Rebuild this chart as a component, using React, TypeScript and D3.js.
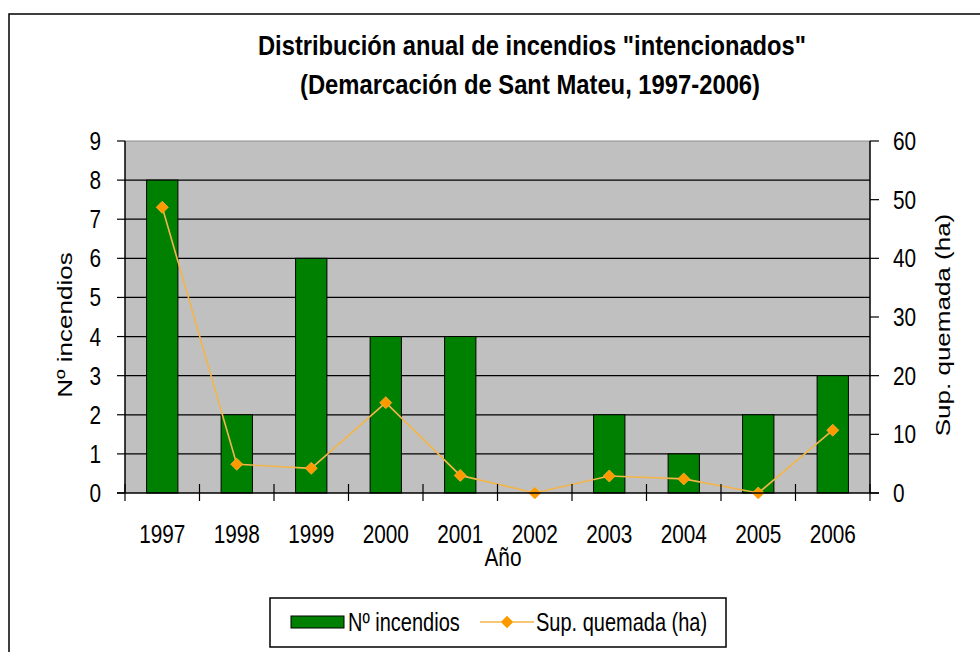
import React from "react";
import * as d3 from "d3";

const years = ["1997", "1998", "1999", "2000", "2001", "2002", "2003", "2004", "2005", "2006"];
const incendios = [8, 2, 6, 4, 4, 0, 2, 1, 2, 3];
const superficie = [48.7, 4.9, 4.2, 15.4, 3, 0, 2.9, 2.4, 0, 10.7];
const leftTicks = [0, 1, 2, 3, 4, 5, 6, 7, 8, 9];
const rightTicks = [0, 10, 20, 30, 40, 50, 60];

const W = 980;
const H = 652;
const plot = { left: 125, right: 870, top: 141, bottom: 493 };
const FONT = "'Liberation Sans', Arial, sans-serif";
const SX = 0.8; // the original is squeezed horizontally

const green = "#008000";
const orange = "#FF9900";
const lineOrange = "#F2B54A";

// text squeezed horizontally like the source picture
const Label = ({ x, y, size = 26, anchor = "start", bold = false, rotate = 0, width, children }: any) => {
  const t = rotate
    ? `translate(${x},${y}) rotate(${rotate}) scale(1,${SX})`
    : `translate(${x},${y}) scale(${SX},1)`;
  return (
    <text
      transform={t}
      fontFamily={FONT}
      fontSize={size}
      fontWeight={bold ? "bold" : "normal"}
      textAnchor={anchor}
      fill="#000"
      textLength={width ? width / SX : undefined}
      lengthAdjust={width ? "spacingAndGlyphs" : undefined}
    >
      {children}
    </text>
  );
};

const diamond = (cx: number, cy: number, r = 6) =>
  `M${cx},${cy - r}L${cx + r},${cy}L${cx},${cy + r}L${cx - r},${cy}Z`;

export default function App() {
  const x = d3.scaleBand().domain(years).range([plot.left, plot.right]).padding(0);
  const yL = d3.scaleLinear().domain([0, 9]).range([plot.bottom, plot.top]);
  const yR = d3.scaleLinear().domain([0, 60]).range([plot.bottom, plot.top]);
  const bw = x.bandwidth() * 0.42;
  const cx = (d: string) => (x(d) as number) + x.bandwidth() / 2;

  const line = d3
    .line<number>()
    .x((_, i) => cx(years[i]))
    .y((d) => yR(d));

  const boundaries = years.map((d) => x(d) as number).concat([plot.right]);

  return (
    <svg width={W} height={H} style={{ position: "absolute", left: 0, top: 0 }}>
      <rect x={0} y={0} width={W} height={H} fill="#fff" />
      <rect x={9} y={14} width={W + 20} height={H + 20} fill="#fff" stroke="#000" strokeWidth={1.5} />

      {/* title */}
      <Label x={532} y={55} size={27} anchor="middle" bold width={548}>
        Distribución anual de incendios "intencionados"
      </Label>
      <Label x={530} y={94} size={27} anchor="middle" bold width={460}>
        (Demarcación de Sant Mateu, 1997-2006)
      </Label>

      {/* plot area */}
      <rect
        x={plot.left}
        y={plot.top}
        width={plot.right - plot.left}
        height={plot.bottom - plot.top}
        fill="#C0C0C0"
      />
      <line x1={plot.left} x2={plot.right} y1={plot.top} y2={plot.top} stroke="#8c8c8c" strokeWidth={1} />
      {leftTicks.slice(1, -1).map((t) => (
        <line key={t} x1={plot.left} x2={plot.right} y1={yL(t)} y2={yL(t)} stroke="#000" strokeWidth={1.2} />
      ))}

      {/* bars */}
      {years.map((d, i) =>
        incendios[i] > 0 ? (
          <rect
            key={d}
            x={cx(d) - bw / 2}
            y={yL(incendios[i])}
            width={bw}
            height={yL(0) - yL(incendios[i])}
            fill={green}
            stroke="#000"
            strokeWidth={1}
          />
        ) : null
      )}

      {/* line series */}
      <path d={line(superficie) || ""} fill="none" stroke={lineOrange} strokeWidth={1.6} />
      {superficie.map((v, i) => (
        <path key={i} d={diamond(cx(years[i]), yR(v))} fill={orange} stroke="#FFB030" strokeWidth={0.8} />
      ))}

      {/* left axis */}
      <line x1={plot.left} x2={plot.left} y1={plot.top} y2={plot.bottom} stroke="#000" strokeWidth={1.5} />
      {leftTicks.map((t) => (
        <g key={t}>
          <line x1={plot.left - 8} x2={plot.left} y1={yL(t)} y2={yL(t)} stroke="#000" strokeWidth={1.2} />
          <Label x={101} y={yL(t) + 9} anchor="end">
            {t}
          </Label>
        </g>
      ))}

      {/* right axis */}
      <line x1={plot.right} x2={plot.right} y1={plot.top} y2={plot.bottom} stroke="#000" strokeWidth={1.5} />
      {rightTicks.map((t) => (
        <g key={t}>
          <line x1={plot.right} x2={plot.right + 9} y1={yR(t)} y2={yR(t)} stroke="#000" strokeWidth={1.2} />
          <Label x={893} y={yR(t) + 9}>
            {t}
          </Label>
        </g>
      ))}

      {/* bottom axis */}
      <line x1={plot.left - 8} x2={plot.right + 9} y1={plot.bottom} y2={plot.bottom} stroke="#000" strokeWidth={1.5} />
      {boundaries.map((b, i) => (
        <line key={i} x1={b} x2={b} y1={plot.bottom - 9} y2={plot.bottom + 8} stroke="#000" strokeWidth={1.2} />
      ))}
      {years.map((d) => (
        <Label key={d} x={cx(d)} y={543} anchor="middle">
          {d}
        </Label>
      ))}

      {/* axis titles */}
      <Label x={503} y={566} anchor="middle">
        Año
      </Label>
      <Label x={72} y={325} anchor="middle" rotate={-90}>
        Nº incendios
      </Label>
      <Label x={950} y={325} anchor="middle" rotate={-90}>
        Sup. quemada (ha)
      </Label>

      {/* legend */}
      <rect x={270} y={598} width={456} height={49} fill="#fff" stroke="#000" strokeWidth={1.5} />
      <rect x={291} y={616} width={53} height={12} fill={green} stroke="#000" strokeWidth={1} />
      <Label x={348} y={631} size={25}>
        Nº incendios
      </Label>
      <line x1={480} x2={534} y1={622} y2={622} stroke={lineOrange} strokeWidth={1.6} />
      <path d={diamond(507, 622)} fill={orange} stroke="#FFB030" strokeWidth={0.8} />
      <Label x={536} y={631} size={25}>
        Sup. quemada (ha)
      </Label>
    </svg>
  );
}
